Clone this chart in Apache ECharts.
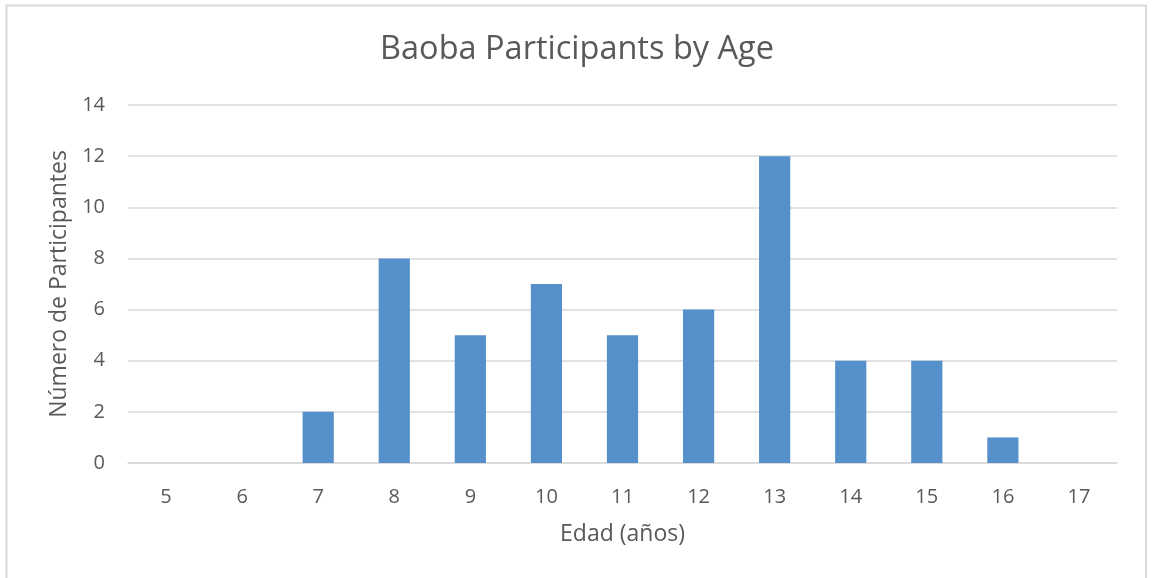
<!DOCTYPE html>
<html><head><meta charset="utf-8">
<script src="https://cdn.jsdelivr.net/npm/echarts@6/dist/echarts.min.js"></script>
<style>html,body{margin:0;padding:0;background:#fff}#c{width:1154px;height:578px}</style>
</head><body><div id="c"></div>
<script>
const categories = ['5','6','7','8','9','10','11','12','13','14','15','16','17'];
const participants = [0,0,2,8,5,7,5,6,12,4,4,1,0];
const titleText = 'Baoba Participants by Age';
const xName = 'Edad (años)';
const yName = 'Número de Participantes';

const chart = echarts.init(document.getElementById('c'));
const font = 'Open Sans, Noto Sans, sans-serif';
chart.setOption({
  animation: false,
  textStyle: {fontFamily: font},
  graphic: [{type:'rect', shape:{x:6.5,y:5.5,width:1139.5,height:600}, style:{fill:'none', stroke:'#d9d9d9', lineWidth:2}, z:-1}],
  title: {text: titleText, left: 'center', top: 28, textStyle:{fontFamily: font, fontSize: 32.5, fontWeight:'normal', color:'#595959'}},
  grid: {left:128, right:37, top:105, bottom:115},
  xAxis: {type:'category', data: categories, name: xName, nameLocation:'middle', nameGap:60,
    nameTextStyle:{fontFamily: font, fontSize:23, color:'#595959'},
    axisLine:{lineStyle:{color:'#d9d9d9', width:1.5}}, axisTick:{show:false},
    axisLabel:{fontFamily: font, fontSize:20, color:'#595959', margin:24}},
  yAxis: {type:'value', min:0, max:14, interval:2, name: yName, nameLocation:'middle', nameGap:56,
    nameTextStyle:{fontFamily: font, fontSize:23, color:'#595959'},
    axisLabel:{fontFamily: font, fontSize:20, color:'#595959', margin:23},
    splitLine:{lineStyle:{color:'#d9d9d9', width:1.5}}},
  series: [{type:'bar', data: participants, barWidth:'41%', itemStyle:{color:'#5590CA'}}]
});
</script></body></html>
